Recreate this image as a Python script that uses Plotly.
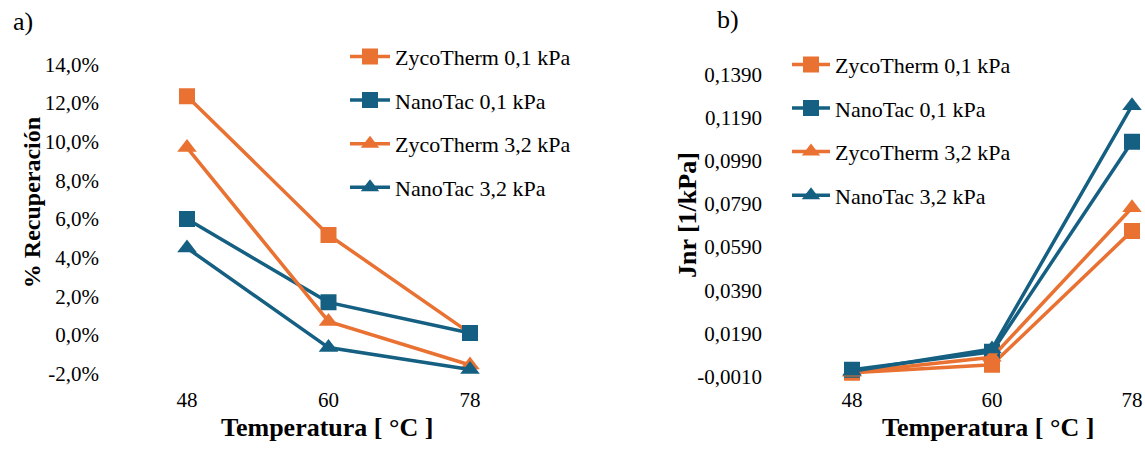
import plotly.graph_objects as go

# ---------------- data ----------------
temps = ["48", "60", "78"]

# panel a) % Recuperación (fractions)
zyco_01_rec = [0.1236, 0.0518, 0.0010]
nano_01_rec = [0.0600, 0.0169, 0.0010]
zyco_32_rec = [0.0970, 0.0070, -0.0155]
nano_32_rec = [0.0450, -0.0065, -0.0178]

# panel b) Jnr [1/kPa]
zyco_01_jnr = [0.0008, 0.0045, 0.0665]
nano_01_jnr = [0.0022, 0.0105, 0.1078]
zyco_32_jnr = [0.0010, 0.0080, 0.0772]
nano_32_jnr = [0.0015, 0.0118, 0.1245]

names = ["ZycoTherm 0,1 kPa", "NanoTac 0,1 kPa", "ZycoTherm 3,2 kPa", "NanoTac 3,2 kPa"]
rec_ticks = [-0.02, 0.0, 0.02, 0.04, 0.06, 0.08, 0.10, 0.12, 0.14]
rec_ticktext = ["-2,0%", "0,0%", "2,0%", "4,0%", "6,0%", "8,0%", "10,0%", "12,0%", "14,0%"]
jnr_ticks = [-0.001, 0.019, 0.039, 0.059, 0.079, 0.099, 0.119, 0.139]
jnr_ticktext = ["-0,0010", "0,0190", "0,0390", "0,0590", "0,0790", "0,0990", "0,1190", "0,1390"]

ORANGE = "#E97132"
BLUE = "#156082"
colors = [ORANGE, BLUE, ORANGE, BLUE]
symbols = ["square", "square", "triangle-up", "triangle-up"]

W, H = 1145, 452
FONT = "Liberation Serif"

def px_x(p):
    return p / W

def px_y(p):
    return 1 - p / H

fig = go.Figure()

rec_series = [zyco_01_rec, nano_01_rec, zyco_32_rec, nano_32_rec]
jnr_series = [zyco_01_jnr, nano_01_jnr, zyco_32_jnr, nano_32_jnr]

for i, (nm, ys) in enumerate(zip(names, rec_series)):
    fig.add_trace(go.Scatter(
        x=temps, y=ys, name=nm, mode="lines+markers",
        line=dict(color=colors[i], width=3.5),
        marker=dict(symbol=symbols[i], size=16 if symbols[i] == "square" else 17, color=colors[i]),
        xaxis="x", yaxis="y", legend="legend", legendgroup="a%d" % i,
    ))

for i, (nm, ys) in enumerate(zip(names, jnr_series)):
    fig.add_trace(go.Scatter(
        x=temps, y=ys, name=nm, mode="lines+markers",
        line=dict(color=colors[i], width=3.5),
        marker=dict(symbol=symbols[i], size=16 if symbols[i] == "square" else 17, color=colors[i]),
        xaxis="x2", yaxis="y2", legend="legend2", legendgroup="b%d" % i,
    ))

top, bottom = 40, 388
ydom = [px_y(bottom), px_y(top)]

# panel a geometry: 48 at x=187, spacing 141.5 px; 0% at y=338, 1950 px per unit
a_left, a_right = 100, 580
a_step = 141.5
a_r0 = -(187 - a_left) / a_step
a_r1 = a_r0 + (a_right - a_left) / a_step
a_k = 1950.0
a_y0 = -(bottom - 338) / a_k
a_y1 = (338 - top) / a_k

# panel b geometry: 48 at x=852, spacing 140 px; -0.001 at y=380, 2178.6 px per unit
b_left, b_right = 763, 1145
b_step = 140.0
b_r0 = -(852 - b_left) / b_step
b_r1 = b_r0 + (b_right - b_left) / b_step
b_k = 2178.6
b_y0 = -0.001 - (bottom - 380) / b_k
b_y1 = -0.001 + (380 - top) / b_k

tickfont = dict(family=FONT, size=21, color="#000000")
legfont = dict(family=FONT, size=22, color="#000000")

fig.update_layout(
    width=W, height=H,
    margin=dict(l=0, r=0, t=0, b=0),
    paper_bgcolor="white", plot_bgcolor="white",
    separators=",.",
    font=dict(family=FONT, color="#000000"),
    xaxis=dict(domain=[px_x(a_left), px_x(a_right)], type="category",
               range=[a_r0, a_r1], showgrid=False, zeroline=False, showline=False,
               ticks="", tickfont=tickfont, anchor="y"),
    yaxis=dict(domain=ydom, range=[a_y0, a_y1], tickvals=rec_ticks, ticktext=rec_ticktext,
               showgrid=False, zeroline=False, showline=False, ticks="",
               tickfont=tickfont, anchor="x"),
    xaxis2=dict(domain=[px_x(b_left), px_x(b_right)], type="category",
                range=[b_r0, b_r1], showgrid=False, zeroline=False, showline=False,
                ticks="", tickfont=tickfont, anchor="y2"),
    yaxis2=dict(domain=ydom, range=[b_y0, b_y1], tickvals=jnr_ticks, ticktext=jnr_ticktext,
                showgrid=False, zeroline=False, showline=False, ticks="",
                tickfont=tickfont, anchor="x2"),
    legend=dict(x=px_x(345), y=px_y(36), xanchor="left", yanchor="top",
                font=legfont, bgcolor="rgba(0,0,0,0)", tracegroupgap=12, itemwidth=40),
    legend2=dict(x=px_x(787), y=px_y(44), xanchor="left", yanchor="top",
                 font=legfont, bgcolor="rgba(0,0,0,0)", tracegroupgap=12, itemwidth=38),
    showlegend=True,
)

ann = [
    dict(text="a)", x=px_x(23), y=px_y(22), font=dict(size=26)),
    dict(text="b)", x=px_x(728), y=px_y(20), font=dict(size=26)),
    dict(text="<b>Temperatura [ °C ]</b>", x=px_x(327), y=px_y(431), font=dict(size=26)),
    dict(text="<b>Temperatura [ °C ]</b>", x=px_x(988), y=px_y(431), font=dict(size=26)),
    dict(text="<b>% Recuperación</b>", x=px_x(32), y=px_y(205), textangle=-90, font=dict(size=24)),
    dict(text="<b>Jnr [1/kPa]</b>", x=px_x(687), y=px_y(217), textangle=-90, font=dict(size=26)),
]
for a in ann:
    a.update(xref="paper", yref="paper", showarrow=False, xanchor="center", yanchor="middle")
    a["font"].update(family=FONT, color="#000000")
fig.update_layout(annotations=ann)

fig.write_html("out.html")
